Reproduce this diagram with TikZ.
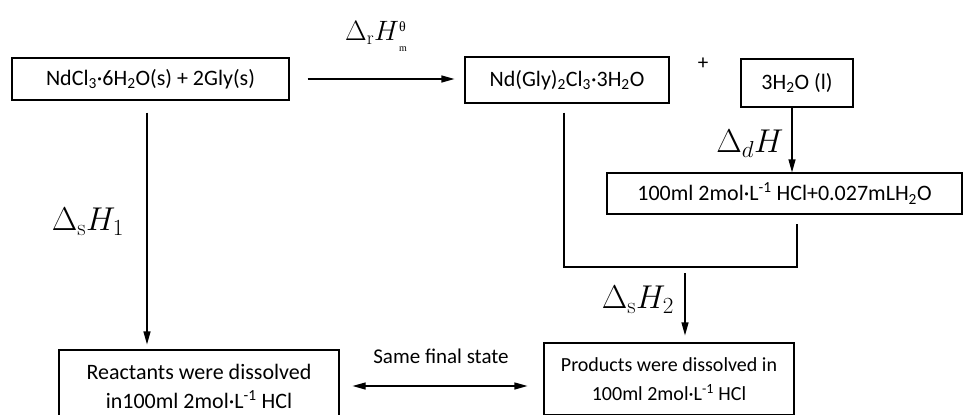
\RequirePackage{fix-cm}
\documentclass[tikz,border=0pt]{standalone}
\usepackage[no-math]{fontspec}
\setmainfont{Carlito}
\newfontfamily\greekserif{Liberation Serif}
\usepackage{tikz}
\usetikzlibrary{arrows.meta,positioning,calc}
\tikzset{
  box/.style={draw=black,line width=1.2pt,inner sep=0pt,align=center,
    font=\fontsize{22}{29}\selectfont},
  flow/.style={-{Triangle[length=13pt,width=7pt]},line width=1.2pt},
  dflow/.style={{Triangle[length=13pt,width=7pt]}-{Triangle[length=13pt,width=7pt]},line width=1.2pt},
  link/.style={line width=1.2pt},
  dlab/.style={inner sep=0pt,font=\fontsize{33}{38}\selectfont},
  plain/.style={inner sep=0pt,font=\fontsize{21}{24}\selectfont},
}

\begin{document}
\begin{tikzpicture}[x=1pt,y=-1pt]
  \useasboundingbox (0,0) rectangle (964,415);
  % states
  \node[box,minimum width=277pt,minimum height=42pt](s1) at (150.5,79)
    {NdCl\textsubscript{3}·6H\textsubscript{2}O(s) + 2Gly(s)};
  \node[box,minimum width=204pt,minimum height=46pt](s2) at (567,80)
    {Nd(Gly)\textsubscript{2}Cl\textsubscript{3}·3H\textsubscript{2}O};
  \node[box,minimum width=112pt,minimum height=48pt](s3) at (797,83)
    {3H\textsubscript{2}O (l)};
  \node[box,minimum width=355pt,minimum height=41pt](s4) at (784.5,193.5)
    {100ml 2mol·L\textsuperscript{-1} HCl+0.027mLH\textsubscript{2}O};
  \node[box,minimum width=280pt,minimum height=72pt](s5) at (199,386)
    {Reactants were dissolved\\in100ml 2mol·L\textsuperscript{-1} HCl};
  \node[box,minimum width=250pt,minimum height=72pt,font=\fontsize{20}{29}\selectfont](s6) at (669,379)
    {Products were dissolved in\\100ml 2mol·L\textsuperscript{-1} HCl};
  \node[plain](pl) at (703,64){+};
  \node[plain](sf) at (441,356){Same final state};
  % enthalpy labels
  \node[dlab,font=\fontsize{28}{32}\selectfont](hr) at (376,36)
    {$\Delta_{\mathrm{r}}H$\rlap{\raisebox{9pt}{\fontsize{14}{14}\greekserif θ}}%
      \raisebox{-11pt}{\fontsize{10}{10}\greekserif m}};
  \node[dlab](h1) at (88,222){$\Delta_{\mathrm{s}}H_1$};
  \node[dlab](hd) at (750,144){$\Delta_d H$};
  \node[dlab](h2) at (638,300){$\Delta_{\mathrm{s}}H_2$};
  % paths
  \coordinate (m1) at (685,267);
  \draw[flow,shorten <=18pt,shorten >=10pt](s1.east)--(s1.east -| s2.west);
  \draw[flow,shorten <=12pt,shorten >=5pt]([xshift=-3.5pt]s1.south)--([xshift=-3.5pt]s1.south |- s5.north);
  \draw[flow]([xshift=-5pt]s3.south)--([xshift=-5pt]s3.south |- s4.north);
  \draw[link,shorten <=9pt,shorten >=9pt]([xshift=-3pt]s2.south) |- (m1) -| ([xshift=12.5pt]s4.south);
  \draw[flow,shorten <=6pt,shorten >=7pt](m1)--(m1 |- s6.north);
  \draw[dflow,shorten <=13pt,shorten >=16pt](s5.east)--(s5.east -| s6.west);
\end{tikzpicture}
\end{document}
